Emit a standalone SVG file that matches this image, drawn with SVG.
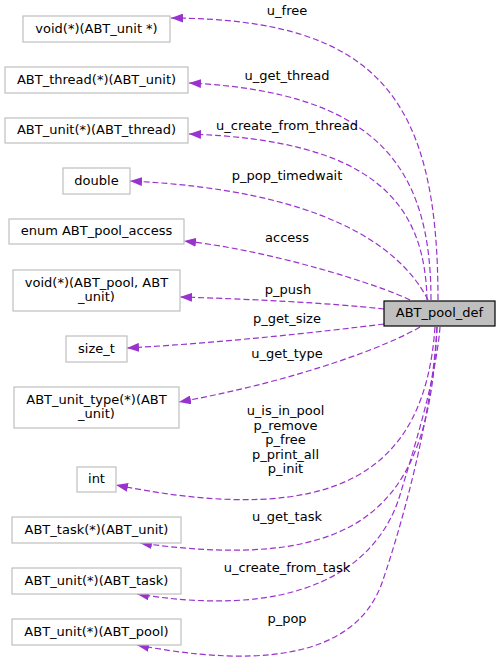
<svg xmlns="http://www.w3.org/2000/svg" width="500" height="668" viewBox="0 0 500 668">
<style>
text{font-family:"DejaVu Sans","Liberation Sans",sans-serif;font-size:13px;fill:#000;text-anchor:middle}
.n rect{fill:#fff;stroke:#bfbfbf;stroke-width:1.2}
.e path{fill:none;stroke:#9a32cd;stroke-width:1.2;stroke-dasharray:6,3;marker-end:url(#ah)}
</style>
<defs>
<marker id="ah" viewBox="0 0 12 9" refX="12" refY="4.5" markerWidth="12" markerHeight="9" markerUnits="userSpaceOnUse" orient="auto">
<path d="M0,0 L12,4.5 L0,9 z" fill="#9a32cd"/>
</marker>
</defs>
<rect width="500" height="668" fill="#fff"/>
<g class="e" id="edges">
<path d="M438,300 C438,100 380,19 171,18"/>
<path d="M431,300 C431,170 380,92 189,83"/>
<path d="M427,300 C425,200 370,140 189,134"/>
<path d="M428,300 C400,245 320,190 130,181"/>
<path d="M410,300 C380,285 270,250 184,241"/>
<path d="M384,309 C330,303 250,299 180,297"/>
<path d="M384,324 C320,332 220,343 127,348"/>
<path d="M420,327 C390,345 300,380 179,402"/>
<path d="M435,327 C425,470 340,530 116,485"/>
<path d="M437,327 C430,500 370,575 140,543"/>
<path d="M440,327 C436,380 412,455 400,495 C385,545 330,625 137,594"/>
<path d="M437,327 C432,420 400,530 383,580 C368,625 320,680 137,645"/>
</g>
<g id="labels">
<text x="287" y="15">u_free</text>
<text x="287" y="80">u_get_thread</text>
<text x="287" y="130">u_create_from_thread</text>
<text x="287" y="180">p_pop_timedwait</text>
<text x="287" y="242">access</text>
<text x="288" y="294">p_push</text>
<text x="287" y="323">p_get_size</text>
<text x="287" y="358">u_get_type</text>
<text x="285.5" y="415">u_is_in_pool</text>
<text x="285.5" y="429.5">p_remove</text>
<text x="285.5" y="444">p_free</text>
<text x="285.5" y="458.5">p_print_all</text>
<text x="285.5" y="473">p_init</text>
<text x="287" y="521">u_get_task</text>
<text x="287" y="572">u_create_from_task</text>
<text x="287" y="623">p_pop</text>
</g>
<g class="n" id="node_void_unit"><rect x="23" y="16" width="147" height="26"/><text x="96.5" y="32.5">void(*)(ABT_unit *)</text></g>
<g class="n" id="node_thread_unit"><rect x="5" y="67" width="183" height="26"/><text x="96.5" y="83.5">ABT_thread(*)(ABT_unit)</text></g>
<g class="n" id="node_unit_thread"><rect x="5" y="118" width="183" height="25"/><text x="96.5" y="134">ABT_unit(*)(ABT_thread)</text></g>
<g class="n" id="node_double"><rect x="63" y="168" width="67" height="26"/><text x="96.5" y="184.5">double</text></g>
<g class="n" id="node_enum"><rect x="9" y="219" width="175" height="25"/><text x="96.5" y="235">enum ABT_pool_access</text></g>
<g class="n" id="node_void_pool_unit"><rect x="13" y="270" width="167" height="41"/><text x="96.5" y="286.5">void(*)(ABT_pool, ABT</text><text x="96.5" y="300.5">_unit)</text></g>
<g class="n" id="node_size_t"><rect x="66" y="336" width="61" height="26"/><text x="96.5" y="352.5">size_t</text></g>
<g class="n" id="node_unit_type"><rect x="14" y="387" width="165" height="41"/><text x="96.5" y="403.5">ABT_unit_type(*)(ABT</text><text x="96.5" y="417.5">_unit)</text></g>
<g class="n" id="node_int"><rect x="77" y="467" width="39" height="25"/><text x="96.5" y="483">int</text></g>
<g class="n" id="node_task_unit"><rect x="12" y="517" width="169" height="26"/><text x="96.5" y="533.5">ABT_task(*)(ABT_unit)</text></g>
<g class="n" id="node_unit_task"><rect x="12" y="568" width="169" height="26"/><text x="96.5" y="584.5">ABT_unit(*)(ABT_task)</text></g>
<g class="n" id="node_unit_pool"><rect x="12" y="619" width="169" height="26"/><text x="96.5" y="635.5">ABT_unit(*)(ABT_pool)</text></g>
<g id="node_pool_def"><rect x="384" y="301" width="111" height="25" fill="#bfbfbf" stroke="#000" stroke-width="1.2"/><text x="439.5" y="317">ABT_pool_def</text></g>
</svg>
